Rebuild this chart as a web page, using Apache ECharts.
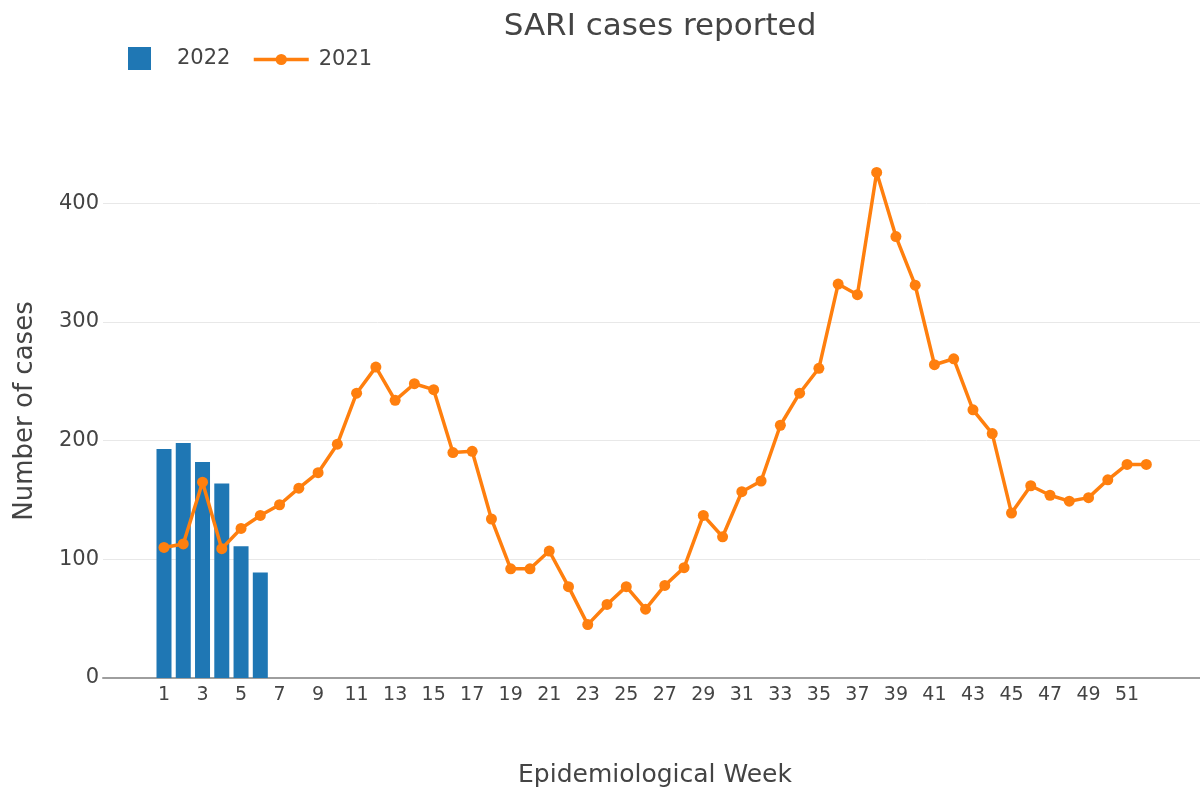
<!DOCTYPE html>
<html>
<head>
<meta charset="utf-8">
<script src="https://cdn.jsdelivr.net/npm/echarts@6/dist/echarts.min.js"></script>
<style>
  html, body { margin: 0; padding: 0; background: #fff; }
  #chart { width: 1200px; height: 789px; }
</style>
</head>
<body>
<div id="chart"></div>
<script>
// data
var weeks2022 = [1, 2, 3, 4, 5, 6];
var cases2022 = [193, 198, 182, 164, 111, 89];

var weeks2021 = [1, 2, 3, 4, 5, 6, 7, 8, 9, 10, 11, 12, 13, 14, 15, 16, 17, 18, 19, 20, 21, 22, 23, 24, 25, 26,
                 27, 28, 29, 30, 31, 32, 33, 34, 35, 36, 37, 38, 39, 40, 41, 42, 43, 44, 45, 46, 47, 48, 49, 50, 51, 52];
var cases2021 = [110, 113, 165, 109, 126, 137, 146, 160, 173, 197, 240, 262, 234, 248, 243, 190, 191, 134, 92, 92, 107, 77, 45, 62, 77, 58,
                 78, 93, 137, 119, 157, 166, 213, 240, 261, 332, 323, 426, 372, 331, 264, 269, 226, 206, 139, 162, 154, 149, 152, 167, 180, 180];

var xTicks = [1, 3, 5, 7, 9, 11, 13, 15, 17, 19, 21, 23, 25, 27, 29, 31, 33, 35, 37, 39, 41, 43, 45, 47, 49, 51];
var yTicks = [0, 100, 200, 300, 400];

var font = 'DejaVu Sans';
var textColor = '#444';

var chart = echarts.init(document.getElementById('chart'));
var option = {
    backgroundColor: '#fff',
    title: {
        text: 'SARI cases reported',
        left: 655,
        top: 6,
        textAlign: 'center',
        textStyle: { fontFamily: font, fontSize: 31, fontWeight: 'normal', color: textColor }
    },
    // two legends so the bar square and the line icon can have different widths
    legend: [{
        data: [{ name: '2022', icon: 'rect' }],
        left: 128,
        top: 47,
        padding: 0,
        itemWidth: 23,
        itemHeight: 23,
        textStyle: { fontFamily: font, fontSize: 21, color: textColor, padding: [2, 0, 0, 21] }
    }, {
        data: ['2021'],
        left: 252,
        top: 49,
        padding: 0,
        itemWidth: 55,
        itemHeight: 14,
        lineStyle: { width: 3.5 },
        textStyle: { fontFamily: font, fontSize: 21, color: textColor, padding: [0, 0, 0, 5] }
    }],
    grid: { left: 103, right: -7, top: 144, bottom: 111, outerBoundsMode: 'none' },
    xAxis: {
        type: 'value',
        min: -2.167,
        max: 55.15,
        name: 'Epidemiological Week',
        nameLocation: 'middle',
        nameGap: 85,
        nameTextStyle: { fontFamily: font, fontSize: 25, color: textColor },
        axisLine: { show: true, onZero: true, lineStyle: { color: '#9e9e9e', width: 2 } },
        axisTick: { show: false },
        splitLine: { show: false },
        axisLabel: {
            customValues: xTicks,
            fontFamily: font, fontSize: 19, color: textColor, margin: 8
        }
    },
    yAxis: {
        type: 'value',
        min: 0,
        max: 450,
        interval: 100,
        name: 'Number of cases',
        nameLocation: 'middle',
        nameGap: 65,
        nameTextStyle: { fontFamily: font, fontSize: 26, color: textColor },
        axisLine: { show: false },
        axisTick: { show: false },
        axisLabel: {
            customValues: yTicks,
            fontFamily: font, fontSize: 21, color: textColor, margin: 4
        },
        splitLine: { show: true, showMaxLine: false, lineStyle: { color: '#e8e8e8', width: 1 } }
    },
    series: [{
        name: '2022',
        type: 'bar',
        barWidth: 15,
        itemStyle: { color: '#1f77b4' },
        data: weeks2022.map(function (w, i) { return [w, cases2022[i]]; })
    }, {
        name: '2021',
        type: 'line',
        symbol: 'circle',
        symbolSize: 11,
        lineStyle: { color: '#ff7f0e', width: 3.5 },
        itemStyle: { color: '#ff7f0e' },
        data: weeks2021.map(function (w, i) { return [w, cases2021[i]]; })
    }]
};
chart.setOption(option);
</script>
</body>
</html>
